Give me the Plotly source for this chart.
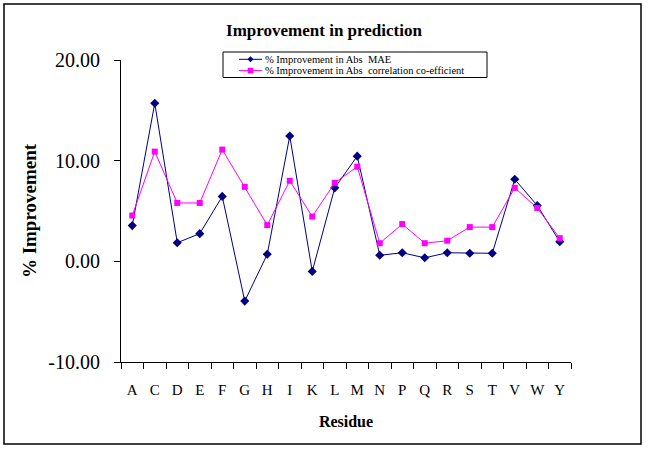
import plotly.graph_objects as go

residues = ["A","C","D","E","F","G","H","I","K","L","M","N","P","Q","R","S","T","V","W","Y"]
mae_impr = [3.55, 15.7, 1.85, 2.75, 6.45, -3.95, 0.7, 12.45, -1.0, 7.3, 10.45, 0.6, 0.85, 0.35, 0.85, 0.8, 0.8, 8.15, 5.55, 1.95]
corr_impr = [4.55, 10.9, 5.8, 5.8, 11.1, 7.4, 3.6, 8.0, 4.45, 7.8, 9.4, 1.8, 3.7, 1.8, 2.05, 3.4, 3.4, 7.3, 5.3, 2.3]
y_ticks = [-10, 0, 10, 20]
y_tick_labels = ["-10.00", "0.00", "10.00", "20.00"]
series_names = ["% Improvement in Abs  MAE", "% Improvement in Abs  correlation co-efficient"]
series_colors = ["#000080", "#FF00FF"]

FONT = "Liberation Serif, Times New Roman, serif"

fig = go.Figure()
fig.add_trace(go.Scatter(
    x=residues, y=mae_impr, mode="lines+markers", name=series_names[0],
    line=dict(color=series_colors[0], width=1),
    marker=dict(symbol="diamond", size=7, color=series_colors[0]),
))
fig.add_trace(go.Scatter(
    x=residues, y=corr_impr, mode="lines+markers", name=series_names[1],
    line=dict(color=series_colors[1], width=1),
    marker=dict(symbol="square", size=6, color=series_colors[1]),
))

L, R, T, B = 121, 77, 60, 87
W, H = 648, 449
pw = W - L - R
ph = H - T - B

def px_x(p):
    return (p - L) / pw

def px_y(p):
    return (H - B - p) / ph

shapes = [dict(type="rect", xref="paper", yref="paper",
               x0=px_x(4), x1=px_x(641), y0=px_y(444), y1=px_y(4),
               line=dict(color="black", width=1.5), fillcolor="rgba(0,0,0,0)", layer="above")]
annotations = []

# compact legend, like the original
lx0, lx1, ly0, ly1 = 223, 487, 52, 77.5
shapes.append(dict(type="rect", xref="paper", yref="paper",
                   x0=px_x(lx0), x1=px_x(lx1), y0=px_y(ly1), y1=px_y(ly0),
                   line=dict(color="black", width=1), fillcolor="white", layer="above"))
for i, (name, col) in enumerate(zip(series_names, series_colors)):
    yc = 59.3 + i * 11.3
    shapes.append(dict(type="line", xref="paper", yref="paper",
                       x0=px_x(239), x1=px_x(262), y0=px_y(yc), y1=px_y(yc),
                       line=dict(color=col, width=1), layer="above"))
    mx = 250.5
    if i == 0:
        s = 3
        path = "M {a},{b} L {c},{d} L {e},{f} L {g},{h} Z".format(
            a=px_x(mx), b=px_y(yc - s), c=px_x(mx + s), d=px_y(yc),
            e=px_x(mx), f=px_y(yc + s), g=px_x(mx - s), h=px_y(yc))
        shapes.append(dict(type="path", xref="paper", yref="paper", path=path,
                           fillcolor=col, line=dict(color=col, width=0), layer="above"))
    else:
        s = 2.8
        shapes.append(dict(type="rect", xref="paper", yref="paper",
                           x0=px_x(mx - s), x1=px_x(mx + s), y0=px_y(yc + s), y1=px_y(yc - s),
                           fillcolor=col, line=dict(color=col, width=0), layer="above"))
    annotations.append(dict(xref="paper", yref="paper", x=px_x(263), y=px_y(yc),
                            xanchor="left", yanchor="middle", showarrow=False, text=name,
                            font=dict(size=10.5, family=FONT, color="black")))

fig.update_layout(
    width=W, height=H,
    margin=dict(l=L, r=R, t=T, b=B, pad=0, autoexpand=False),
    paper_bgcolor="white", plot_bgcolor="white",
    font=dict(family=FONT, color="black"),
    title=dict(text="<b>Improvement in prediction</b>", x=0.5, xref="container",
               y=1 - 30 / H, yref="container", yanchor="middle", xanchor="center",
               font=dict(size=17, family=FONT, color="black")),
    showlegend=False,
    xaxis=dict(
        type="category", range=[-0.5, 19.5],
        showline=True, linecolor="black", linewidth=1,
        ticks="outside", tickson="boundaries", ticklen=6, tickcolor="black",
        showgrid=False, zeroline=False, tickangle=0, automargin=False,
        ticklabelstandoff=14,
        tickfont=dict(size=15, family=FONT, color="black"),
        title=dict(text="<b>Residue</b>", font=dict(size=16, family=FONT, color="black"), standoff=18),
    ),
    yaxis=dict(
        range=[-10, 20], tickmode="array", tickvals=y_ticks, ticktext=y_tick_labels,
        showline=True, linecolor="black", linewidth=1,
        ticks="outside", ticklen=6, tickcolor="black",
        showgrid=False, zeroline=False, automargin=False,
        ticklabelstandoff=10,
        tickfont=dict(size=20, family=FONT, color="black"),
        title=dict(text="<b>% Improvement</b>", font=dict(size=19, family=FONT, color="black"), standoff=6),
    ),
    shapes=shapes,
    annotations=annotations,
)

fig.write_html("out.html", config={"displayModeBar": False},
               post_script="document.body.style.margin='0';")
